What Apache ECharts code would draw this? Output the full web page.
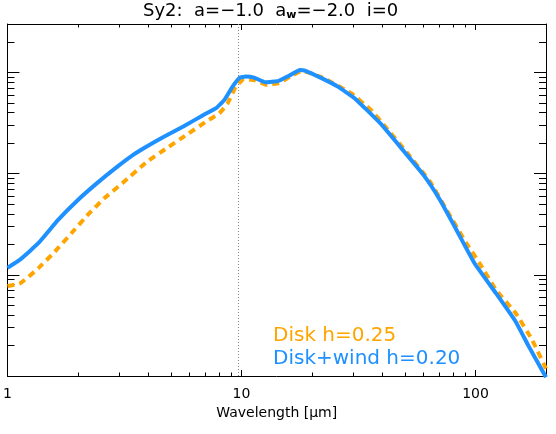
<!DOCTYPE html>
<html>
<head>
<meta charset="utf-8">
<script src="https://cdn.jsdelivr.net/npm/echarts@6/dist/echarts.min.js"></script>
<style>
  html, body { margin: 0; padding: 0; background: #fff; }
  #chart { width: 556px; height: 434px; }
</style>
</head>
<body>
<div id="chart"></div>
<script>
// Disk h=0.25 (dashed orange)
const diskWl = [1.00, 1.135, 1.355, 1.594, 1.875, 2.203, 2.592, 3.096, 3.947, 4.79, 5.82, 7.07, 8.05, 8.73, 9.46, 10.27, 11.49, 12.88, 14.42, 16.14, 18.09, 21.97, 29.4, 35.7, 40.6, 51.0, 63.9, 75.2, 91.4, 104, 122.3, 148.5, 174.5, 200];
const diskFlux = [7.75, 8.24, 11.6, 16.9, 25.7, 39.0, 57.0, 80.2, 131, 178, 241, 326, 394, 495, 722, 857, 828, 750, 780, 907, 1032, 895, 621, 425, 302, 160, 83.2, 43.7, 20.5, 13.0, 7.08, 4.17, 2.27, 1.18];

// Disk+wind h=0.20 (solid blue)
const windWl = [1.00, 1.135, 1.355, 1.646, 2.00, 2.428, 2.949, 3.444, 3.822, 4.64, 5.64, 6.85, 7.79, 8.45, 9.16, 9.81, 10.43, 11.31, 12.66, 14.42, 15.90, 17.8, 18.67, 21.97, 25.8, 30.4, 39.4, 49.3, 59.9, 70.5, 82.9, 99.0, 122.3, 148.5, 169, 200];
const windFlux = [11.7, 14.2, 20.5, 34.8, 54.8, 81.3, 117, 153, 178, 230, 291, 377, 442, 534, 722, 881, 907, 887, 798, 822, 921, 1056, 1040, 875, 722, 555, 309, 167, 96.9, 54.8, 27.7, 13.0, 6.56, 3.44, 1.95, 0.97];

const xMajor = [1, 10, 100];
const xMinor = [2, 3, 4, 5, 6, 7, 8, 9, 20, 30, 40, 50, 60, 70, 80, 90];
const yMajor = [1, 10, 100, 1000];
const yMinor = [2, 3, 4, 5, 6, 7, 8, 9, 20, 30, 40, 50, 60, 70, 80, 90,
  200, 300, 400, 500, 600, 700, 800, 900, 2000];
const silicate = 9.7;

const font = 'DejaVu Sans';
const black = '#000';

function xAx(pos, ticks, len, withLabel) {
  return {
    type: 'log', position: pos, min: 1, max: 200,
    axisLine: { show: withLabel, lineStyle: { color: black, width: 1 } },
    axisTick: { show: true, inside: true, length: len, customValues: ticks, lineStyle: { color: black, width: 1 } },
    axisLabel: withLabel && pos === 'bottom'
      ? { show: true, customValues: xMajor, margin: 11, color: black, fontFamily: font, fontSize: 14 }
      : { show: false },
    splitLine: { show: false },
    name: withLabel && pos === 'bottom' ? 'Wavelength [μm]' : '',
    nameLocation: 'middle', nameGap: 30,
    nameTextStyle: { color: black, fontFamily: font, fontSize: 14 }
  };
}
function yAx(pos, ticks, len, withLine) {
  return {
    type: 'log', position: pos, min: 1, max: 3000,
    axisLine: { show: withLine, lineStyle: { color: black, width: 1 } },
    axisTick: { show: true, inside: true, length: len, customValues: ticks, lineStyle: { color: black, width: 1 } },
    axisLabel: { show: false },
    splitLine: { show: false }
  };
}

const chart = echarts.init(document.getElementById('chart'));
chart.setOption({
  animation: false,
  title: {
    text: '{n|Sy2:  a=−1.0  a}{s|w}{n|=−2.0  i=0}',
    left: 143, top: 1, padding: 0,
    textStyle: {
      fontWeight: 'normal',
      rich: {
        n: { fontFamily: font, fontSize: 18, fontWeight: 'normal', color: black, lineHeight: 20 },
        s: { fontFamily: font, fontSize: 11, color: black, fontWeight: 'bold', lineHeight: 12, verticalAlign: 'bottom' }
      }
    }
  },
  legend: {
    orient: 'vertical', left: 268, top: 325, padding: 0,
    icon: 'none', itemWidth: 0, itemHeight: 22, itemGap: 0.4,
    selectedMode: false,
    textStyle: { fontFamily: font, fontSize: 20, lineHeight: 22 },
    data: [
      { name: 'Disk h=0.25', textStyle: { color: '#FFA500' } },
      { name: 'Disk+wind h=0.20', textStyle: { color: '#1E90FF' } }
    ]
  },
  grid: { left: 2, right: 10, top: 24, bottom: 58, containLabel: false },
  xAxis: [
    xAx('bottom', xMajor, 6, true),
    xAx('bottom', xMinor, 3.5, false),
    xAx('top', xMajor, 6, true),
    xAx('top', xMinor, 3.5, false)
  ],
  yAxis: [
    yAx('left', yMajor, 12, true),
    yAx('left', yMinor, 7, false),
    yAx('right', yMajor, 12, true),
    yAx('right', yMinor, 7, false)
  ],
  series: [
    {
      name: 'Disk h=0.25', type: 'line', xAxisIndex: 0, yAxisIndex: 0,
      data: diskWl.map((w, i) => [w, diskFlux[i]]),
      showSymbol: false, smooth: 0.12, clip: true,
      lineStyle: { color: '#FFA500', width: 4, type: [7, 5], cap: 'butt' },
      itemStyle: { color: '#FFA500' },
      markLine: {
        silent: true, symbol: 'none', label: { show: false },
        lineStyle: { color: '#888', width: 1, type: [1, 2] },
        data: [{ xAxis: silicate }]
      },
      z: 2
    },
    {
      name: 'Disk+wind h=0.20', type: 'line', xAxisIndex: 0, yAxisIndex: 0,
      data: windWl.map((w, i) => [w, windFlux[i]]),
      showSymbol: false, smooth: 0.12, clip: true,
      lineStyle: { color: '#1E90FF', width: 4 },
      itemStyle: { color: '#1E90FF' },
      z: 3
    }
  ]
});
</script>
</body>
</html>
